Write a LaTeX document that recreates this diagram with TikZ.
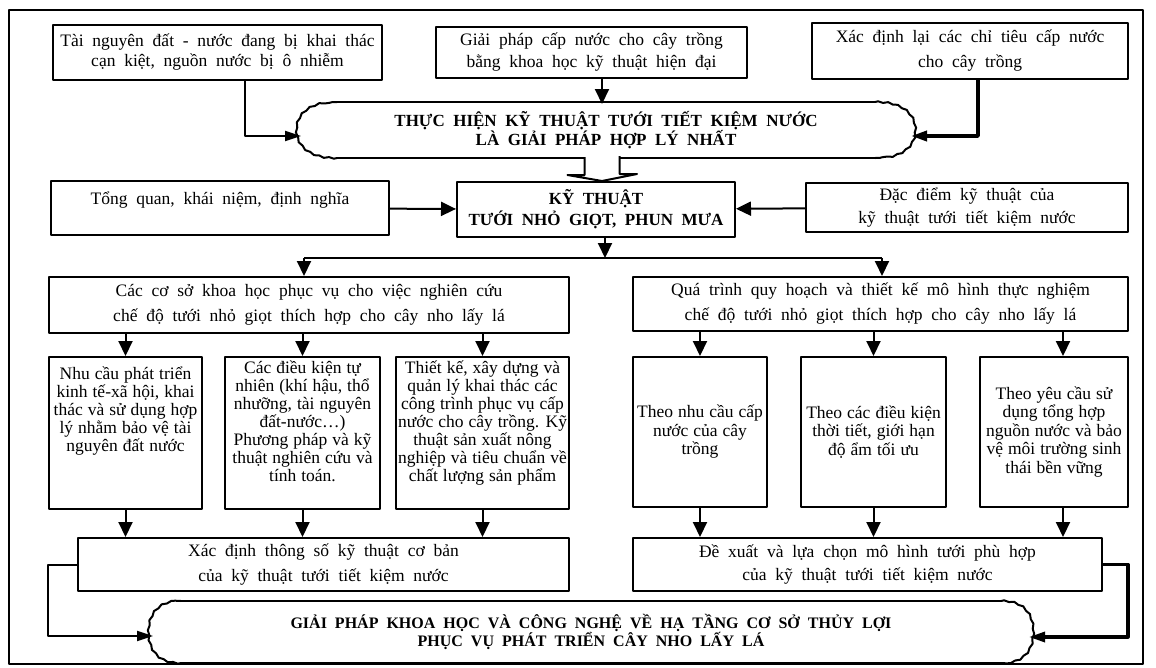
\documentclass[tikz,border=0pt]{standalone}
\usepackage{fontspec}
\setmainfont[WordSpace=2]{Liberation Serif}
\usetikzlibrary{arrows.meta,calc,decorations.pathmorphing}

\begin{document}
\begin{tikzpicture}[x=1pt,y=-1pt,line width=2pt,line join=round]

	\tikzstyle{box}=[draw,rectangle,align=center,inner sep=0pt,font={\fontsize{17.5}{20}\selectfont}]
	\tikzstyle{big}=[box,font={\fontsize{17.5}{25}\selectfont}]
	\tikzstyle{col}=[draw,inner sep=0pt,font={\fontsize{17.5}{18}\selectfont\spaceskip=5pt plus 2pt minus 1pt}]
	\tikzstyle{small}=[box,minimum height=150pt,font={\fontsize{17.5}{18.5}\selectfont\spaceskip=5pt plus 2pt minus 1pt}]
	\tikzstyle{head}=[align=center,inner sep=0pt,font={\bfseries\fontsize{17}{17}\selectfont}]
	\tikzstyle{arr}=[-{Triangle[length=15pt,width=14pt]}]
	\tikzstyle{into}=[-{Triangle[length=16pt,width=10pt]}]
	\tikzstyle{wave}=[decorate,decoration={snake,amplitude=0.7pt,segment length=10pt}]

	\useasboundingbox (0,0) rectangle (1156,667);
	\draw[line width=2.2pt] (9,10) rectangle (1143,664);

	% top row
	\node[box,minimum width=329pt,minimum height=55pt] (t1) at (217.5,52.5) {Tài nguyên đất - nước đang bị khai thác\\cạn kiệt, nguồn nước bị ô nhiễm};
	\node[box,minimum width=311pt,minimum height=51pt,font={\fontsize{17.5}{22}\selectfont}] (t2) at (591.5,52.5) {Giải pháp cấp nước cho cây trồng\\bằng khoa học kỹ thuật hiện đại};
	\node[box,minimum width=316pt,minimum height=56pt,font={\fontsize{17.5}{25}\selectfont}] (t3) at (970,51) {Xác định lại các chỉ tiêu cấp nước\\cho cây trồng};

	\node[head,minimum width=536pt,minimum height=54pt] (b1) at (606,130) {THỰC HIỆN KỸ THUẬT TƯỚI TIẾT KIỆM NƯỚC\\LÀ GIẢI PHÁP HỢP LÝ NHẤT};
	\draw (b1.north west) -- (b1.north east);
	\draw (b1.south west) -- (b1.south east);
	\draw[wave] (b1.north east) .. controls +(22,0) and +(0,-18) .. ([xshift=38pt]b1.east) .. controls +(0,18) and +(22,0) .. (b1.south east);
	\draw[wave] (b1.south west) .. controls +(-22,0) and +(0,18) .. ([xshift=-38pt]b1.west) .. controls +(0,-18) and +(-22,0) .. (b1.north west);
	\coordinate (b1w) at (301,136);
	\coordinate (b1e) at (911,136);

	% second row
	\node[box,minimum width=338pt,minimum height=54pt] (tq) at (220,208) {Tổng quan, khái niệm, định nghĩa\\\mbox{}};
	\node[box,minimum width=278pt,minimum height=55pt,font={\bfseries\fontsize{17}{21}\selectfont}] (kt) at (596,209.5) {KỸ THUẬT\\TƯỚI NHỎ GIỌT, PHUN MƯA};
	\node[box,minimum width=322pt,minimum height=49pt,font={\fontsize{17.5}{23}\selectfont}] (dd) at (967,207.5) {Đặc điểm kỹ thuật của\\kỹ thuật tưới tiết kiệm nước};
	\coordinate (h) at (602,157);
	\coordinate (sm) at (605,258);
	\coordinate (sl) at (304,258);
	\coordinate (sr) at (882,258);

	% two branches
	\node[big,minimum width=520pt,minimum height=56pt] (cs) at (309,305) {Các cơ sở khoa học phục vụ cho việc nghiên cứu\\chế độ tưới nhỏ giọt thích hợp cho cây nho lấy lá};
	\node[big,minimum width=495pt,minimum height=54pt] (qt) at (880.5,304) {Quá trình quy hoạch và thiết kế mô hình thực nghiệm\\chế độ tưới nhỏ giọt thích hợp cho cây nho lấy lá};

	\node[col] (n1) at (125.5,433) {\parbox[c][152pt][t]{153pt}{\centering\vspace*{10pt}Nhu cầu phát triển\\kinh tế-xã hội, khai\\thác và sử dụng hợp\\lý nhằm bảo vệ tài\\nguyên đất nước}};
	\node[col] (n2) at (302.5,433) {\parbox[c][152pt][t]{155pt}{\centering\vspace*{4pt}Các điều kiện tự\\nhiên (khí hậu, thổ\\nhưỡng, tài nguyên\\đất-nước…)\\Phương pháp và kỹ\\thuật nghiên cứu và\\tính toán.}};
	\node[col] (n3) at (482.5,433) {\parbox[c][152pt][t]{173pt}{\centering\vspace*{4pt}Thiết kế, xây dựng và\\quản lý khai thác các\\công trình phục vụ cấp\\nước cho cây trồng. Kỹ\\thuật sản xuất nông\\nghiệp và tiêu chuẩn về\\chất lượng sản phẩm}};

	\node[small,minimum width=134pt] (m1) at (700,432) {Theo nhu cầu cấp\\nước của cây\\trồng};
	\node[small,minimum width=145pt] (m2) at (873.5,432) {Theo các điều kiện\\thời tiết, giới hạn\\độ ẩm tối ưu};
	\node[small,minimum width=148pt] (m3) at (1054,432) {Theo yêu cầu sử\\dụng tổng hợp\\nguồn nước và bảo\\vệ môi trường sinh\\thái bền vững};

	\node[box,minimum width=491pt,minimum height=53pt,font={\fontsize{17.5}{25}\selectfont}] (xd) at (323.5,564.5) {Xác định thông số kỹ thuật cơ bản\\của kỹ thuật tưới tiết kiệm nước};
	\node[box,minimum width=469pt,minimum height=53pt,font={\fontsize{17.5}{23}\selectfont}] (dx) at (867.5,564.5) {Đề xuất và lựa chọn mô hình tưới phù hợp\\của kỹ thuật tưới tiết kiệm nước};

	\node[head,minimum width=818pt,minimum height=60pt,font={\bfseries\fontsize{16}{16}\selectfont}] (b2) at (591,632) {GIẢI PHÁP KHOA HỌC VÀ CÔNG NGHỆ VỀ HẠ TẦNG CƠ SỞ THỦY LỢI\\PHỤC VỤ PHÁT TRIỂN CÂY NHO LẤY LÁ};
	\draw (b2.north west) -- (b2.north east);
	\draw (b2.south west) -- (b2.south east);
	\draw[wave] (b2.north east) .. controls +(18,0) and +(0,-20) .. ([xshift=30pt]b2.east) .. controls +(0,20) and +(18,0) .. (b2.south east);
	\draw[wave] (b2.south west) .. controls +(-18,0) and +(0,20) .. ([xshift=-30pt]b2.west) .. controls +(0,-20) and +(-18,0) .. (b2.north west);
	\coordinate (b2w) at (153,636);
	\coordinate (b2e) at (1029,637);

	% connectors
	\draw[into] ([xshift=27.5pt]t1.south) |- (b1w);
	\draw[arr] ([xshift=10.5pt]t2.south) -- ++(0,25);
	\draw[into,line width=3.6pt] ([xshift=8pt]t3.south) |- (b1e);
	\draw[fill=white] ([xshift=-17.5pt]h) -- ++(0,18) -- ++(-17,0) -- (h |- kt.north) -- ++(35,-7) -- ++(-17.5,0) -- ++(0,-18);

	\path (tq) edge[arr] (kt)
				(dd) edge[arr] (kt);
	\draw[arr] (kt.south -| sm) -- (sm);
	\draw (sl) -- (sr);
	\draw[arr] (sl) -- (sl |- cs.north);
	\draw[arr] (sr) -- (sr |- qt.north);

	\path (n1 |- cs.south) edge[arr] (n1)
				(n2 |- cs.south) edge[arr] (n2)
				(n3 |- cs.south) edge[arr] (n3)
				(m1 |- qt.south) edge[arr] (m1)
				(m2 |- qt.south) edge[arr] (m2);
	\draw[arr] ($(qt.south -| m3.north)+(9,0)$) -- ($(m3.north)+(9,0)$);

	\path (n1) edge[arr] (n1 |- xd.north)
				(n2) edge[arr] (n2 |- xd.north)
				(n3) edge[arr] (n3 |- xd.north)
				(m1) edge[arr] (m1 |- dx.north)
				(m2) edge[arr] (m2 |- dx.north);
	\draw[arr] ($(m3.south)+(9,0)$) -- ($(m3.south |- dx.north)+(9,0)$);

	\draw[into] (xd.west) -- ++(-29,0) |- (b2w);
	\draw[into,line width=3.2pt] (dx.east) -- ++(25,0) |- (b2e);

\end{tikzpicture}
\end{document}
